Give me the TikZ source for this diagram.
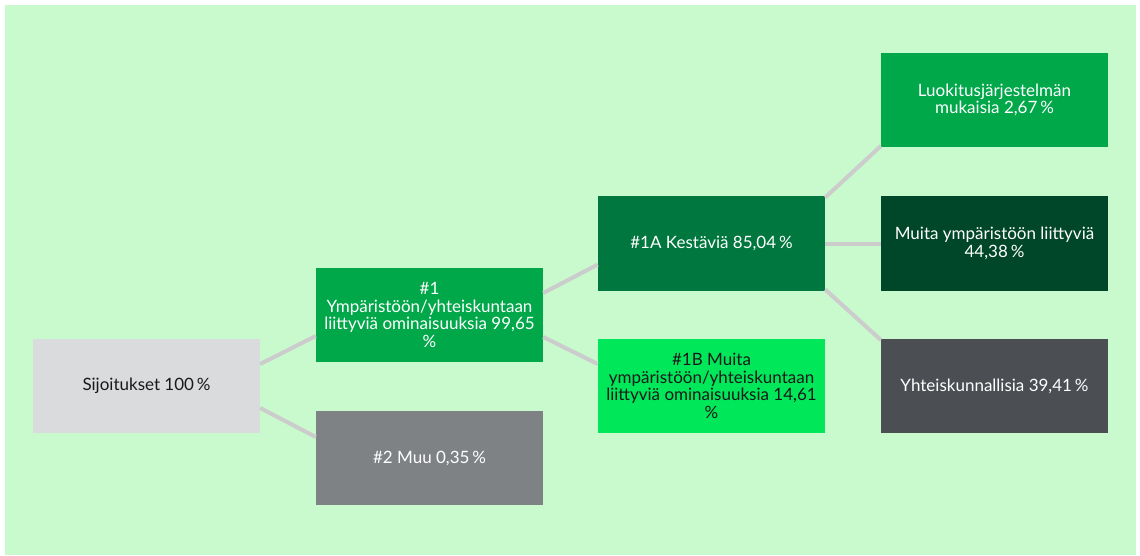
\documentclass[tikz,border=0pt]{standalone}
\usepackage{fontspec}
\setmainfont{Lato}
\definecolor{bgc}{RGB}{200,250,205}
\definecolor{c0}{RGB}{218,219,221}
\definecolor{c1}{RGB}{0,168,74}
\definecolor{c2}{RGB}{127,130,133}
\definecolor{c1a}{RGB}{0,119,62}
\definecolor{c1b}{RGB}{0,232,90}
\definecolor{cm}{RGB}{0,70,40}
\definecolor{cy}{RGB}{75,79,84}
\definecolor{linec}{RGB}{204,204,204}
\definecolor{txtd}{RGB}{25,25,25}
\tikzset{
  box/.style={minimum width=227pt, minimum height=94pt, inner sep=1pt, align=center,
    font=\fontsize{17}{17.5}\selectfont},
  lighttxt/.style={box, text=white},
  darktxt/.style={box, text=txtd},
  conn/.style={draw=linec, line width=4pt}
}
\begin{document}
\begin{tikzpicture}[x=1pt,y=-1pt]
\useasboundingbox (0,0) rectangle (1140,556);
\fill[bgc] (5,5) rectangle (1136,555);
\node[darktxt, fill=c0] (s) at (146.5,386) {Sijoitukset 100\,\%};
\node[lighttxt, fill=c1] (n1) at (429.5,315) {\#1\\Ympäristöön/yhteiskuntaan\\liittyviä ominaisuuksia 99,65\\\%};
\node[lighttxt, fill=c2] (n2) at (429.5,458) {\#2 Muu 0,35\,\%};
\node[lighttxt, fill=c1a] (n1a) at (711.5,243.5) {\#1A Kestäviä 85,04\,\%};
\node[darktxt, fill=c1b] (n1b) at (711.5,386) {\#1B Muita\\ympäristöön/yhteiskuntaan\\liittyviä ominaisuuksia 14,61\\\%};
\node[lighttxt, fill=c1] (l) at (994.5,100) {Luokitusjärjestelmän\\mukaisia 2,67\,\%};
\node[lighttxt, fill=cm] (m) at (994.5,243.5) {Muita ympäristöön liittyviä\\44,38\,\%};
\node[lighttxt, fill=cy] (y) at (994.5,386) {Yhteiskunnallisia 39,41\,\%};
\draw[conn] ([yshift=22pt]s.east) -- ([yshift=-21pt]n1.west);
\draw[conn] ([yshift=-22pt]s.east) -- ([yshift=21pt]n2.west);
\draw[conn] ([yshift=22pt]n1.east) -- ([yshift=-21pt]n1a.west);
\draw[conn] ([yshift=-22pt]n1.east) -- ([yshift=22pt]n1b.west);
\draw[conn] ([yshift=46pt]n1a.east) -- ([yshift=-46pt]l.west);
\draw[conn] (n1a.east) -- (m.west);
\draw[conn] ([yshift=-46pt]n1a.east) -- ([yshift=46pt]y.west);
\end{tikzpicture}
\end{document}
